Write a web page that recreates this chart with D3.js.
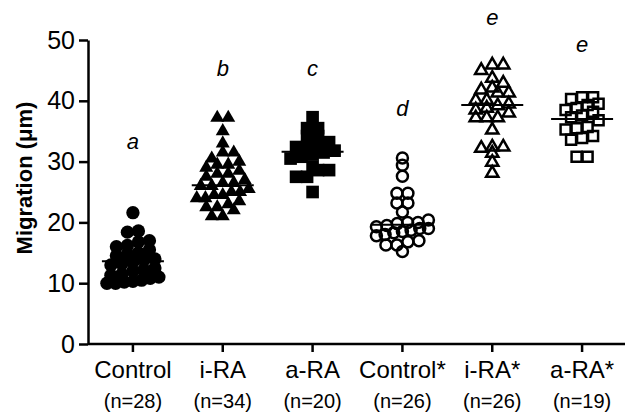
<!DOCTYPE html>
<html>
<head>
  <meta charset="UTF-8">
  <title>Migration</title>
  <style>
    body { margin: 0; background: #fff; }
    svg text { font-family: "Liberation Sans", Arial, sans-serif; fill: #000; }
    .eixo path, .eixo line { stroke: #000; stroke-width: 2.5px; }
    .eixo text { font-size: 24px; }
  </style>
</head>
<body>
  <svg id="grafico"></svg>

  <script src="https://d3js.org/d3.v7.min.js"></script>
  <script>
    const categories = ['Control', 'i-RA', 'a-RA', 'Control*', 'i-RA*', 'a-RA*'];
    const nLabels = ['(n=28)', '(n=34)', '(n=20)', '(n=26)', '(n=26)', '(n=19)'];
    const letters = ['a', 'b', 'c', 'd', 'e', 'e'];
    const letterPos = [32, 44, 44, 37.5, 52.5, 48];
    const means = [13.6, 26.1, 31.6, 19.6, 39.3, 37.0];
    const yTicks = [0, 10, 20, 30, 40, 50];

    const control = [21.6, 18.6, 18.4, 17.0, 16.2, 16.0, 16.8, 15.0, 15.5, 14.5, 14.0, 13.8, 13.5, 13.0,
      12.5, 12.0, 12.2, 11.5, 11.3, 11.0, 10.8, 10.5, 10.3, 10.2, 10.0, 10.0, 14.8, 13.2];
    const iRA = [37.2, 37.2, 35, 33, 31.5, 31.5, 30.5, 30, 29.5, 29.5, 29, 28.5, 28, 28, 27.5, 27, 26.5,
      26.5, 26, 26, 25.5, 25, 25, 24.5, 24.5, 24, 24, 23.5, 23, 22.5, 22.5, 22, 21, 21];
    const aRA = [37.3, 35.5, 35.5, 34.2, 34.2, 33.2, 33.2, 32.4, 32.4, 31.8, 31.5, 31.2, 30.8, 30.5,
      29.2, 28.6, 28.6, 27.5, 27.5, 25];
    const controlS = [30.6, 29.4, 27.6, 24.8, 24.8, 23.2, 23.2, 21.7, 20.4, 20.0, 20.0, 19.8, 19.5, 19.3,
      19.0, 19.0, 18.7, 18.5, 18.3, 18.0, 17.8, 17.0, 16.3, 16.3, 16.8, 15.2];
    const iRAS = [45.9, 45.9, 45.0, 43.7, 42.9, 42.1, 41.8, 41.3, 41.3, 40.1, 40.1, 39.5, 39.2, 38.8,
      38.5, 38.0, 37.2, 37.2, 37.2, 35.2, 32.4, 32.4, 32.2, 31.4, 29.9, 28.1];
    const aRAS = [40.6, 40.6, 40.3, 39.5, 39.3, 38.8, 38.5, 38.2, 37.6, 37.3, 36.8, 35.7, 35.5, 35.3,
      34.2, 33.9, 33.6, 30.8, 30.8];

    const series = [control, iRA, aRA, controlS, iRAS, aRAS];

    // marcadores: forma, tamanho, preenchido?
    const simbolos = [
      { tipo: d3.symbolCircle, tam: 140, cheio: true },
      { tipo: d3.symbolTriangle, tam: 85, cheio: true },
      { tipo: d3.symbolSquare, tam: 160, cheio: true },
      { tipo: d3.symbolCircle, tam: 95, cheio: false },
      { tipo: d3.symbolTriangle, tam: 65, cheio: false },
      { tipo: d3.symbolSquare, tam: 100, cheio: false }
    ];

    // espalha pontos com valores parecidos lado a lado, sem passar de meiaLarg
    function espalhar(vals, faixa, passo, meiaLarg) {
      const grupos = d3.group(vals.map(v => ({ v })), d => Math.floor(d.v / faixa));
      const saida = [];
      for (const [, g] of grupos) {
        g.sort((a, b) => a.v - b.v);
        const p = g.length > 1 ? Math.min(passo, 2 * meiaLarg / (g.length - 1)) : 0;
        g.forEach((d, k) => saida.push({ v: d.v, dx: (k - (g.length - 1) / 2) * p }));
      }
      return saida;
    }

    function executa() {
      const largura = 625, altura = 414;
      const svg = d3.select('#grafico').attr('width', largura).attr('height', altura);

      const x = d3.scaleBand().domain(categories).range([88, 627]);
      const y = d3.scaleLinear().domain([0, 50]).range([344, 40]);

      svg.append('g')
        .attr('class', 'eixo')
        .attr('transform', 'translate(88,0)')
        .call(d3.axisLeft(y).tickValues(yTicks).tickSize(9).tickSizeOuter(0).tickPadding(4));
      svg.selectAll('.eixo text').style('font-size', '25px');

      const eixoX = svg.append('g')
        .attr('class', 'eixo')
        .attr('transform', 'translate(0,344)')
        .call(d3.axisBottom(x).tickSize(8).tickSizeOuter(0).tickPadding(9));
      eixoX.select('.domain').attr('d', 'M88,0H625');
      eixoX.selectAll('.tick text').attr('dy', '0.71em');

      svg.selectAll('.nlab')
        .data(categories)
        .enter()
        .append('text')
        .attr('class', 'nlab')
        .attr('x', d => x(d) + x.bandwidth() / 2)
        .attr('y', 408)
        .attr('text-anchor', 'middle')
        .style('font-size', '20px')
        .text((d, i) => nLabels[i]);

      svg.append('text')
        .attr('transform', 'translate(32,178) rotate(-90)')
        .attr('text-anchor', 'middle')
        .style('font-size', '22px')
        .style('font-weight', 'bold')
        .text('Migration (\u03bcm)');

      categories.forEach((c, i) => {
        const cx = x(c) + x.bandwidth() / 2;
        const s = simbolos[i];
        const pts = espalhar(series[i], 1.6, 11, 26);
        svg.append('g')
          .selectAll('path')
          .data(pts)
          .enter()
          .append('path')
          .attr('d', d3.symbol().type(s.tipo).size(s.tam))
          .attr('transform', d => `translate(${cx + d.dx},${y(d.v)})`)
          .attr('fill', s.cheio ? '#000' : 'none')
          .attr('stroke', '#000')
          .attr('stroke-width', s.cheio ? 0 : 2.5);

        svg.append('line')
          .attr('x1', cx - 31).attr('x2', cx + 31)
          .attr('y1', y(means[i])).attr('y2', y(means[i]))
          .attr('stroke', '#000')
          .attr('stroke-width', 2);

        svg.append('text')
          .attr('x', cx)
          .attr('y', y(letterPos[i]))
          .attr('text-anchor', 'middle')
          .style('font-size', '22px')
          .style('font-style', 'italic')
          .text(letters[i]);
      });
    }

    executa();
  </script>
</body>
</html>
